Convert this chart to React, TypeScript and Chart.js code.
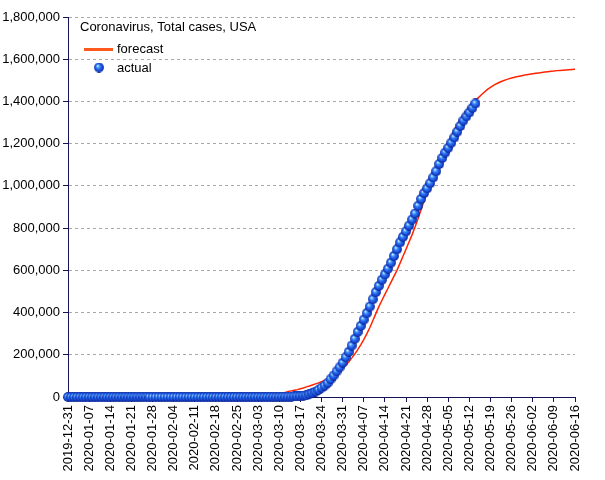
import { useEffect, useRef } from "react";
import { Chart, registerables } from "chart.js";

Chart.register(...registerables);

const chartTitle = "Coronavirus, Total cases, USA";
const seriesNames = ["forecast", "actual"];

// x axis: one step per day from 2019-12-31 to 2020-06-16 (day 0 .. day 168)
const lastDay = 168;
const tickLabels = [
  "2019-12-31", "2020-01-07", "2020-01-14", "2020-01-21", "2020-01-28",
  "2020-02-04", "2020-02-11", "2020-02-18", "2020-02-25", "2020-03-03",
  "2020-03-10", "2020-03-17", "2020-03-24", "2020-03-31", "2020-04-07",
  "2020-04-14", "2020-04-21", "2020-04-28", "2020-05-05", "2020-05-12",
  "2020-05-19", "2020-05-26", "2020-06-02", "2020-06-09", "2020-06-16",
];

// actual total cases, one per day starting 2019-12-31 (day 0) up to 2020-05-14
const actualCases = [
  // Dec 31 .. Jan 22
  0, 0, 0, 0, 0, 0, 0, 0, 0, 0, 0, 0, 0, 0, 0, 0, 0, 0, 0, 0, 0, 0, 0,
  // Jan 23 .. Jan 31
  1, 1, 2, 2, 5, 5, 5, 5, 5,
  // Feb
  7, 8, 8, 11, 11, 11, 11, 11, 11, 11, 11, 12, 12, 13, 13, 13, 13, 13, 13, 13, 13,
  15, 15, 15, 51, 51, 57, 58, 60,
  // Mar
  68, 74, 98, 118, 149, 217, 262, 402, 518, 583, 959, 1281, 1663, 2179, 2727,
  3499, 4632, 6421, 7786, 13680, 19101, 25493, 33276, 43847, 53740, 65778,
  83836, 101657, 121465, 140909, 161831,
  // Apr
  188172, 213242, 243622, 275367, 308650, 336802, 366317, 397121, 428654,
  462780, 496535, 526396, 555313, 580619, 607670, 636350, 667801, 699706,
  732197, 758809, 784326, 811865, 840351, 869170, 905358, 938154, 965785,
  988197, 1012582, 1039909,
  // May 1 .. May 14
  1069424, 1103461, 1132539, 1158040, 1180375, 1204351, 1229331, 1257023,
  1283929, 1309550, 1329260, 1347881, 1369376, 1390406,
];

// forecast, one per day starting 2020-03-05 (day 65) up to 2020-06-16
const forecastStartDay = 65;
const forecastCases = [
  2000, 3000, 4000, 6000, 9000, 13000, 18000, 22000, 26000, 29000,
  32000, 35000, 39000, 43000, 48000, 52000, 57000, 62000, 67000, 72000,
  78000, 85000, 93000, 102000, 112000, 123000, 136000, 150000, 166000, 184000,
  203000, 224000, 247000, 272000, 299000, 328000, 361000, 395000, 428000, 457000,
  486000, 514000, 543000, 571000, 600000, 633000, 667000, 700000, 734000, 768000,
  805000, 845000, 888000, 930000, 970000, 1010000, 1046000, 1080000, 1113000, 1145000,
  1176000, 1205000, 1236000, 1265000, 1291000, 1315000, 1336000, 1356000, 1374000, 1390000,
  1404000, 1418000, 1432000, 1445000, 1457000, 1467000, 1476000, 1484000, 1491000, 1497000,
  1502000, 1507000, 1511000, 1515000, 1518000, 1521000, 1524000, 1527000, 1529000, 1531000,
  1533000, 1535000, 1537000, 1539000, 1541000, 1543000, 1544000, 1546000, 1547000, 1548000,
  1549000, 1550000, 1551000, 1552000,
];

const yMax = 1800000;
const yStep = 200000;

const FONT = "'Liberation Sans', Arial, sans-serif";
const NAVY = "#14145a";
const GRID = "#a8a8a8";
const LINE_RED = "#ff2400";
const LEGEND_ORANGE = "#ff5a1e";

function makeSphere(): HTMLCanvasElement {
  const size = 10;
  const c = document.createElement("canvas");
  c.width = size;
  c.height = size;
  const g = c.getContext("2d")!;
  const grad = g.createRadialGradient(3.6, 3.3, 0.2, 5, 5, 5.1);
  grad.addColorStop(0, "#f2fbff");
  grad.addColorStop(0.15, "#7cc4ff");
  grad.addColorStop(0.4, "#2f78f5");
  grad.addColorStop(0.75, "#1646d2");
  grad.addColorStop(1, "#081a80");
  g.fillStyle = grad;
  g.beginPath();
  g.arc(5, 5, 4.9, 0, Math.PI * 2);
  g.fill();
  return c;
}

export default function App() {
  const ref = useRef<HTMLCanvasElement | null>(null);

  useEffect(() => {
    document.body.style.margin = "0";
    const canvas = ref.current;
    if (!canvas) return;
    const sphere = makeSphere();

    const overlay = {
      id: "overlayLegend",
      afterDraw(chart: any) {
        const ctx = chart.ctx as CanvasRenderingContext2D;
        const a = chart.chartArea;
        ctx.save();
        ctx.font = `13px ${FONT}`;
        ctx.fillStyle = "#000";
        ctx.textAlign = "left";
        ctx.textBaseline = "middle";
        ctx.fillText(chartTitle, a.left + 12, a.top + 10);
        ctx.strokeStyle = LEGEND_ORANGE;
        ctx.lineWidth = 3;
        ctx.beginPath();
        ctx.moveTo(a.left + 16, a.top + 32.5);
        ctx.lineTo(a.left + 45, a.top + 32.5);
        ctx.stroke();
        ctx.fillText(seriesNames[0], a.left + 49, a.top + 32);
        ctx.drawImage(sphere, a.left + 31 - sphere.width / 2, a.top + 50.5 - sphere.height / 2);
        ctx.fillText(seriesNames[1], a.left + 49, a.top + 51);
        ctx.restore();
      },
    };

    const chart = new Chart(canvas, {
      type: "line",
      data: {
        datasets: [
          {
            label: seriesNames[1],
            data: actualCases.map((v, i) => ({ x: i, y: v })),
            showLine: false,
            pointStyle: sphere as any,
            pointRadius: 5,
            clip: false as any,
            order: 0,
          },
          {
            label: seriesNames[0],
            data: forecastCases.map((v, i) => ({ x: forecastStartDay + i, y: v })),
            borderColor: LINE_RED,
            borderWidth: 1.5,
            pointRadius: 0,
            tension: 0,
            order: 1,
          },
        ],
      },
      options: {
        responsive: false,
        animation: false,
        events: [],
        layout: { padding: { top: 17, right: 30, left: 0, bottom: 0 } },
        plugins: {
          legend: { display: false },
          title: { display: false },
          tooltip: { enabled: false },
        },
        scales: {
          x: {
            type: "linear",
            min: 0,
            max: lastDay,
            afterFit: (s: any) => {
              s.height = 83;
            },
            ticks: {
              stepSize: 7,
              autoSkip: false,
              maxRotation: 90,
              minRotation: 90,
              padding: 3,
              color: "#000",
              font: { family: FONT, size: 13 },
              callback: (v: any) => tickLabels[Math.round(Number(v) / 7)] ?? "",
            },
            grid: {
              drawOnChartArea: false,
              drawTicks: true,
              tickLength: 5,
              tickColor: NAVY,
            },
            border: { color: NAVY, width: 1 },
          },
          y: {
            min: 0,
            max: yMax,
            afterFit: (s: any) => {
              s.width = 68;
            },
            ticks: {
              stepSize: yStep,
              padding: 3,
              color: "#000",
              font: { family: FONT, size: 13 },
              callback: (v: any) => Number(v).toLocaleString("en-US"),
            },
            grid: {
              drawOnChartArea: true,
              drawTicks: true,
              tickLength: 5,
              color: (c: any) => (c.tick && c.tick.value === 0 ? NAVY : GRID),
              tickColor: NAVY,
              tickBorderDash: [],
            },
            border: { color: NAVY, width: 1, dash: [3, 3] },
          },
        },
      },
      plugins: [overlay],
    });

    return () => chart.destroy();
  }, []);

  return <canvas ref={ref} width={605} height={480} style={{ display: "block" }} />;
}
